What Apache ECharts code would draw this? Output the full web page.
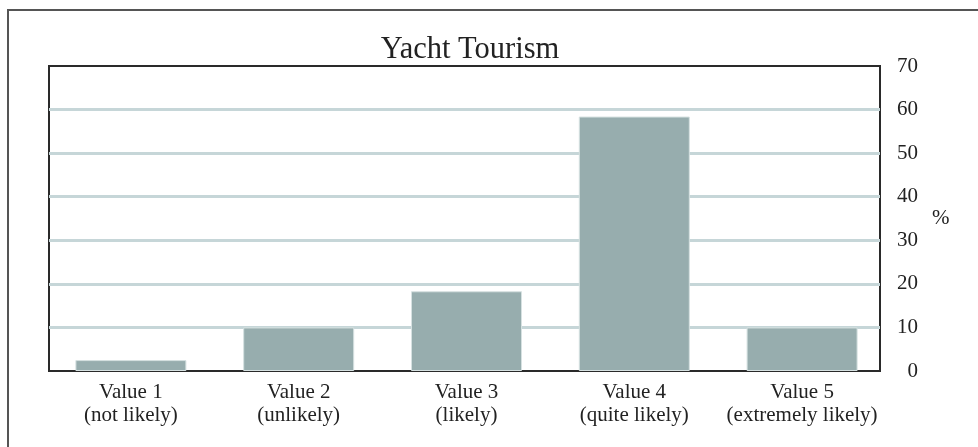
<!DOCTYPE html>
<html>
<head>
<meta charset="utf-8">
<script src="https://cdn.jsdelivr.net/npm/echarts@6/dist/echarts.min.js"></script>
<style>html,body{margin:0;padding:0;background:#fff}#c{width:978px;height:447px}</style>
</head>
<body>
<div id="c"></div>
<script>
const categories = ["Value 1\n(not likely)", "Value 2\n(unlikely)", "Value 3\n(likely)", "Value 4\n(quite likely)", "Value 5\n(extremely likely)"];
const values = [2.5, 10, 18.3, 58.4, 10];
const yTicks = { min: 0, max: 70, interval: 10 };
const titleText = "Yacht Tourism";
const unitLabel = "%";

const chart = echarts.init(document.getElementById('c'));
const FONT = 'Liberation Serif';
chart.setOption({
  animation: false,
  backgroundColor: '#fff',
  title: {
    text: titleText, left: 465, top: 29, textAlign: 'center',
    textStyle: { fontFamily: FONT, fontSize: 30.5, fontWeight: 'normal', color: '#222' }
  },
  graphic: [{
    type: 'polyline', silent: true,
    shape: { points: [[8, 447], [8, 10], [978, 10]] },
    style: { stroke: '#555', lineWidth: 2, fill: null }
  }],
  grid: [
    { left: 49, right: 98, top: 66, bottom: 76, show: true, borderColor: '#2a2a2a', borderWidth: 2, backgroundColor: 'transparent' },
    { left: 47, right: 92, top: 66, bottom: 76, show: false }
  ],
  xAxis: [
    { type: 'category', gridIndex: 0, data: categories, show: false },
    {
      type: 'category', gridIndex: 1, data: categories,
      axisTick: { show: false },
      axisLine: { show: false },
      axisLabel: { fontFamily: FONT, fontSize: 21, color: '#222', lineHeight: 23, margin: 10, interval: 0 }
    }
  ],
  yAxis: [
    {
      type: 'value', gridIndex: 0, position: 'right', min: yTicks.min, max: yTicks.max, interval: yTicks.interval,
      name: unitLabel, nameLocation: 'middle', nameRotate: 0, nameGap: 52,
      nameTextStyle: { fontFamily: FONT, fontSize: 21, color: '#222' },
      axisLine: { show: false }, axisTick: { show: false },
      axisLabel: { fontFamily: FONT, fontSize: 21, color: '#222', align: 'right', margin: 38 },
      splitLine: { show: true, showMinLine: false, showMaxLine: false, lineStyle: { color: '#c6d6d8', width: 3 } }
    },
    { type: 'value', gridIndex: 1, min: yTicks.min, max: yTicks.max, interval: yTicks.interval, show: false, splitLine: { show: false } }
  ],
  series: [{
    type: 'bar', xAxisIndex: 1, yAxisIndex: 1, data: values, barWidth: 111,
    itemStyle: { color: '#97adae', borderColor: '#d6e1e1', borderWidth: 1 }
  }]
});
</script>
</body>
</html>
